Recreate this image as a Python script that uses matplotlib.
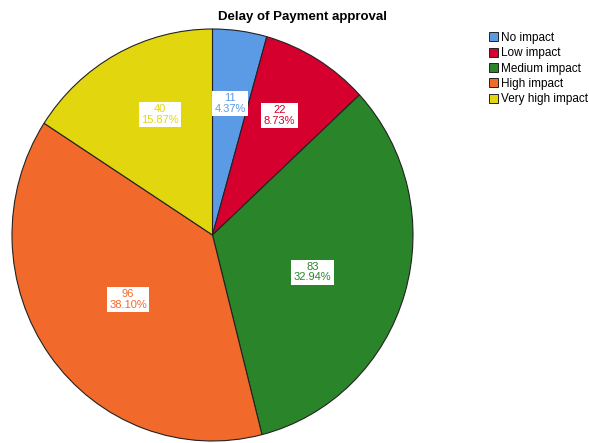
import matplotlib
matplotlib.use("Agg")
import matplotlib.pyplot as plt
import numpy as np
from matplotlib.patches import Patch

plt.rcParams['font.family'] = ['Liberation Sans', 'DejaVu Sans']

categories = ["No impact", "Low impact", "Medium impact", "High impact", "Very high impact"]
counts = [11, 22, 83, 96, 40]
percents = ["4.37%", "8.73%", "32.94%", "38.10%", "15.87%"]
colors = ["#5B9BE6", "#D6002F", "#2A852A", "#F26A2B", "#E2D70E"]
label_radius = [0.645, 0.67, 0.53, 0.525, 0.64]
label_angle_shift = [0, 1.5, -3.5, 1.0, -4.5]

W, H = 589, 443
fig = plt.figure(figsize=(W / 100, H / 100), dpi=100)
ax = fig.add_axes([12 / W, (H - 441) / H, 401 / W, 412 / H])
wedges, _ = ax.pie(counts, colors=colors, startangle=90, counterclock=False,
                   wedgeprops=dict(edgecolor="#222222", linewidth=0.8))
ax.set_aspect('auto')
ax.set_xlim(-1, 1)
ax.set_ylim(-1, 1)

total = sum(counts)
cum = 0
for i, c in enumerate(counts):
    mid = 90 - (cum + c / 2) / total * 360 + label_angle_shift[i]
    cum += c
    r = label_radius[i]
    x, y = r * np.cos(np.radians(mid)), r * np.sin(np.radians(mid))
    ax.text(x, y, f"{c}\n{percents[i]}", ha="center", va="center", fontsize=8,
            color=colors[i], linespacing=1.05,
            bbox=dict(boxstyle="square,pad=0.22", facecolor="white", edgecolor="none"))

fig.text(302 / W, 1 - 17 / H, "Delay of Payment approval", ha="center", va="center",
         fontsize=9.5, fontweight="bold")

handles = [Patch(facecolor=col, edgecolor="#222222", linewidth=0.7) for col in colors]
fig.legend(handles, categories, loc="upper left", bbox_to_anchor=(489 / W, 1 - 32 / H),
           frameon=False, fontsize=8.5, handlelength=0.8, handleheight=0.8,
           handletextpad=0.2, labelspacing=0.28, borderpad=0, borderaxespad=0)

fig.savefig("out.png", dpi=100)
